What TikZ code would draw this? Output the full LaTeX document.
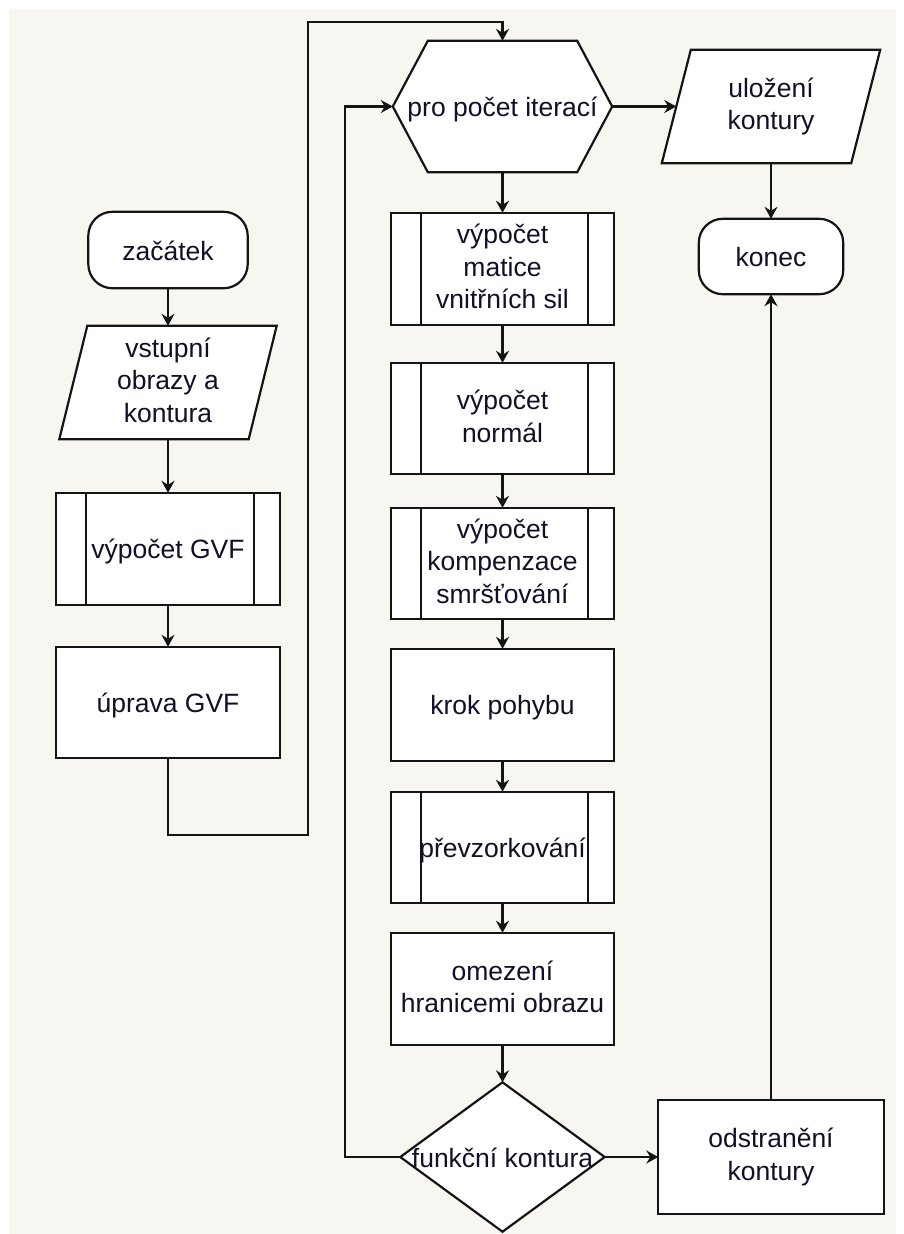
\documentclass[tikz,border=0pt]{standalone}
\usepackage{fontspec}
\setmainfont{Liberation Sans}
\usetikzlibrary{arrows.meta,calc}
\pgfdeclarelayer{background}
\pgfsetlayers{background,main}
\definecolor{paper}{RGB}{248,246,240}
\definecolor{ink}{RGB}{16,16,40}
\definecolor{edge}{RGB}{20,20,20}
% fixed line box so every label sits like a one-line text row
\newcommand\linestrut{\rule[-5pt]{0pt}{30pt}}
\tikzset{
  box/.style={draw=none, inner sep=0pt, align=center, text=ink,
    font=\fontsize{26.5pt}{32.5pt}\selectfont,
    execute at begin node=\linestrut, execute at end node=\linestrut},
  outline/.style={draw=edge, fill=white, line width=2.2pt, line join=miter},
  bar/.style={draw=edge, line width=2.2pt},
  flow/.style={draw=edge, line width=2.2pt, -{Stealth[length=12pt,width=13pt,inset=4pt]}},
}
\begin{document}
\begin{tikzpicture}[x=1pt,y=-1pt]
\useasboundingbox (0,0) rectangle (903,1234);
\begin{pgfonlayer}{background}
  \fill[white] (0,0) rectangle (903,1234);
  \fill[paper] (9,9) rectangle (896,1234);
\end{pgfonlayer}

% left column
\node[box, minimum width=159pt, minimum height=76pt]  (start) at (168,250)   {začátek};
\node[box, minimum width=189pt, minimum height=113pt] (in)    at (168,382.5) {vstupní\\obrazy a\\kontura};
\node[box, minimum width=224pt, minimum height=112pt] (gvf)   at (168,549)   {výpočet GVF};
\node[box, minimum width=224pt, minimum height=111pt] (fix)   at (168,702.5) {úprava GVF};

% middle column
\node[box, minimum width=219pt, minimum height=131pt] (loop)  at (502.5,106.5) {pro počet iterací};
\node[box, minimum width=222pt, minimum height=112pt] (m1)    at (502.5,269)    {výpočet\\matice\\vnitřních sil};
\node[box, minimum width=222pt, minimum height=111pt] (m2)    at (502.5,418.5)  {výpočet\\normál};
\node[box, minimum width=222pt, minimum height=111pt] (m3)    at (502.5,563.5)  {výpočet\\kompenzace\\smršťování};
\node[box, minimum width=222pt, minimum height=112pt] (m4)    at (502.5,705)    {krok pohybu};
\node[box, minimum width=222pt, minimum height=111pt] (m5)    at (502.5,847.5)  {převzorkování};
\node[box, minimum width=222pt, minimum height=112pt] (m6)    at (502.5,989)    {omezení\\hranicemi obrazu};
\node[box, minimum width=204pt, minimum height=149pt] (test)  at (502.5,1157) {funkční kontura};

% right column
\node[box, minimum width=189pt, minimum height=113pt] (save)  at (771,106.5)  {uložení\\kontury};
\node[box, minimum width=144pt, minimum height=75pt]  (stop)  at (771,256.5)  {konec};
\node[box, minimum width=225pt, minimum height=113pt] (drop)  at (771,1157) {odstranění\\kontury};

% symbol outlines behind the labels
\begin{pgfonlayer}{background}
  \draw[outline, rounded corners=24pt] (start.north west) rectangle (start.south east);
  \draw[outline, rounded corners=24pt] (stop.north west) rectangle (stop.south east);
  \draw[outline] ([xshift=14pt]in.north west) -- ([xshift=14pt]in.north east)
     -- ([xshift=-14pt]in.south east) -- ([xshift=-14pt]in.south west) -- cycle;
  \draw[outline] ([xshift=14.5pt]save.north west) -- ([xshift=14.5pt]save.north east)
     -- ([xshift=-14.5pt]save.south east) -- ([xshift=-14.5pt]save.south west) -- cycle;
  \draw[outline] (loop.west) -- ([xshift=35pt]loop.north west) -- ([xshift=-35pt]loop.north east)
     -- (loop.east) -- ([xshift=-35pt]loop.south east) -- ([xshift=35pt]loop.south west) -- cycle;
  \draw[outline] (test.north) -- (test.east) -- (test.south) -- (test.west) -- cycle;
  \foreach \n in {fix,m4,m6,drop}
    \draw[outline] (\n.north west) rectangle (\n.south east);
  \foreach \n in {gvf,m1,m2,m3,m5} {
    \draw[outline] (\n.north west) rectangle (\n.south east);
    \draw[bar] ([xshift=30pt]\n.north west) -- ([xshift=30pt]\n.south west);
    \draw[bar] ([xshift=-26pt]\n.north east) -- ([xshift=-26pt]\n.south east);
  }
\end{pgfonlayer}

% junction points of the routed connectors
\coordinate (up) at (308,22);
\coordinate (back) at (345,600);

% connectors
\draw[flow] (start) -- (in);
\draw[flow] (in) -- (gvf);
\draw[flow] (gvf) -- (fix);
\draw[flow] (fix.south) -- ++(0,77) -| (up) -| (loop.north);
\draw[flow] (loop) -- (m1);
\draw[flow] (m1) -- (m2);
\draw[flow] (m2) -- (m3);
\draw[flow] (m3) -- (m4);
\draw[flow] (m4) -- (m5);
\draw[flow] (m5) -- (m6);
\draw[flow] (m6.south) -- (test.north);
\draw[flow] (test.west) -- (test.west -| back) |- (loop.west);
\draw[flow] (test.east) -- (drop.west);
\draw[flow] (loop.east) -- (save.west);
\draw[flow] (save.south) -- (stop.north);
\draw[flow] (drop.north) -- (stop.south);
\end{tikzpicture}
\end{document}
